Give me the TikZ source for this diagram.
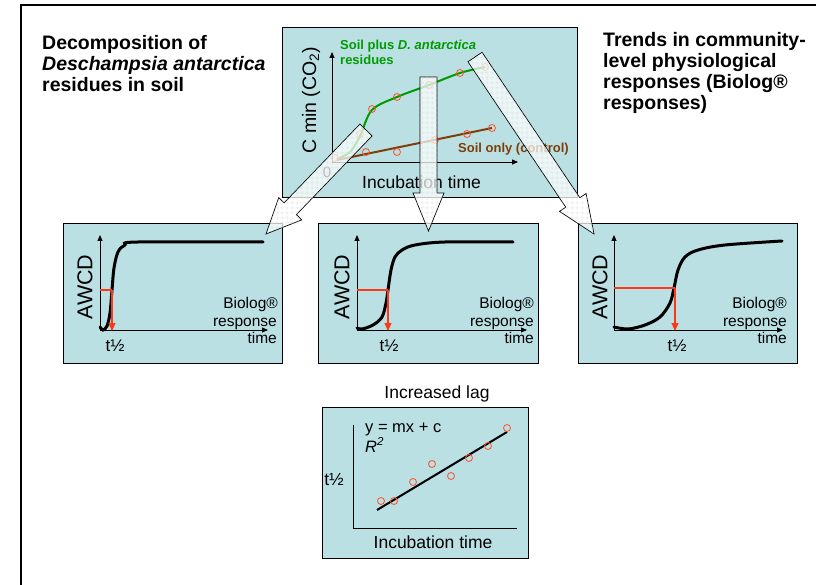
\documentclass[tikz,border=0pt]{standalone}
\usepackage{fontspec}
\setmainfont{Liberation Sans}
\usetikzlibrary{calc,arrows.meta,patterns.meta}
\definecolor{boxfill}{RGB}{186,224,228}
\definecolor{markred}{RGB}{255,55,20}
\definecolor{ringred}{RGB}{255,80,40}
\definecolor{plantgreen}{RGB}{0,155,0}
\definecolor{soilbrown}{RGB}{125,62,10}
\tikzdeclarepattern{name=tilegrid, type=uncolored,
  bounding box={(0pt,0pt) and (5pt,5pt)}, tile size={(5pt,5pt)},
  code={\draw[line width=0.5pt] (0pt,2.5pt) -- (5pt,2.5pt) (2.5pt,0pt) -- (2.5pt,5pt);}}
\tikzset{
  panel/.style={draw=black, line width=0.8pt, fill=boxfill},
  axisarrow/.style={line width=0.9pt, -{Triangle[length=6pt,width=5pt]}},
  axisplain/.style={line width=0.9pt},
  sig/.style={line width=3pt, line cap=round, black},
  ring/.style={circle, draw=ringred, line width=0.8pt, minimum size=7pt, inner sep=0pt},
  halfline/.style={draw=markred, line width=1.1pt},
  halfarrow/.style={draw=markred, fill=markred, line width=1.1pt, -{Triangle[length=8pt,width=7pt]}},
  blockarr/.style={draw=black, line width=0.7pt, fill=white, fill opacity=0.72,
    postaction={pattern=tilegrid, pattern color=black!14}},
  title/.style={font=\fontsize{19.5}{21}\selectfont\bfseries, inner sep=0pt},
  lbl/.style={font=\fontsize{15.5}{17}\selectfont, inner sep=0pt},
  halflbl/.style={font=\fontsize{17}{19}\selectfont, inner sep=0pt},
  axlbl/.style={font=\fontsize{17.5}{20}\selectfont, inner sep=0pt},
  awcd/.style={font=\fontsize{21.5}{24}\selectfont, inner sep=0pt, rotate=90},
  curvelbl/.style={font=\fontsize{13}{15}\selectfont\bfseries, inner sep=0pt},
}
\begin{document}
\begin{tikzpicture}[x=1pt,y=-1pt]
\useasboundingbox (0,0) rectangle (816,585);
% outer frame
\draw[line width=2.2pt] (21,590) -- (21,5) -- (820,5);

% titles
\node[title, anchor=base west] (tl1) at (42,49.3) {Decomposition of};
\node[title, anchor=base west] (tl2) at (42,70.7) {\textit{Deschampsia antarctica}};
\node[title, anchor=base west] (tl3) at (42,92) {residues in soil};
\node[title, anchor=base west] (tr1) at (603,46.5) {Trends in community-};
\node[title, anchor=base west] (tr2) at (603,68) {level physiological};
\node[title, anchor=base west] (tr3) at (603,89) {responses (Biolog®};
\node[title, anchor=base west] (tr4) at (603,110) {responses)};

% ---------- top panel ----------
\path[panel] (282,27) rectangle (577,197);
\draw[axisarrow] (332,162) -- (332,52);
\draw[axisarrow] (332,162) -- (518,162);
\node[axlbl, font=\fontsize{19.5}{22}\selectfont, rotate=90] (cmin) at (311,100) {C min (CO\textsubscript{2})};
\node[axlbl, anchor=base west] (inct) at (362,189) {Incubation time};
\node[font=\fontsize{15}{17}\selectfont, inner sep=0pt] (zero) at (327,172) {0};
\draw[plantgreen, line width=2pt] plot[smooth, tension=0.55] coordinates
  {(337,159) (350,152) (360,136) (372,110) (397,97) (429,85) (460,73) (485,67)};
\draw[soilbrown, line width=2pt] (337,160) -- (492,128);
\node[ring] (g0) at (335,158) {};
\node[ring] (g1) at (360,134) {};
\node[ring] (g2) at (372,109) {};
\node[ring] (g3) at (397,97) {};
\node[ring] (g4) at (429,85) {};
\node[ring] (g5) at (460,73) {};
\node[ring] (g6) at (485,67) {};
\node[ring] (b1) at (366,152) {};
\node[ring] (b2) at (397,152) {};
\node[ring] (b3) at (435,140) {};
\node[ring] (b4) at (467,134) {};
\node[ring] (b5) at (492,128) {};
\node[curvelbl, plantgreen, anchor=base west] (gl1) at (340,49.3) {Soil plus \textit{D. antarctica}};
\node[curvelbl, plantgreen, anchor=base west] (gl2) at (340,65) {residues};
\node[curvelbl, soilbrown, anchor=base west] (bl) at (458,153) {Soil only (control)};

% ---------- panel 1 ----------
\path[panel] (63,223) rectangle (282,363);
\draw[axisarrow] (100,330) -- (100,235);
\draw[axisarrow] (100,330) -- (268,330);
\node[awcd] (aw1) at (85,287) {AWCD};
\draw[sig] plot[smooth, tension=0.55] coordinates
  {(100,327) (103,330) (107,326) (110,313) (112,290) (114,268) (118,252) (125,245) (138,242) (263,242)};
\draw[halfline] (100,290) -- (112,290);
\draw[halfarrow] (112,290) -- (112,331);
\node[lbl, anchor=base east] (bi1) at (278,308) {Biolog®};
\node[lbl, anchor=base east] (re1) at (277,326) {response};
\node[lbl, anchor=base east] (ti1) at (277,343) {time};
\node[halflbl, anchor=base] (th1) at (115,351) {t½};

% ---------- panel 2 ----------
\path[panel] (318,223) rectangle (538,363);
\draw[axisarrow] (357,330) -- (357,235);
\draw[axisarrow] (357,330) -- (527,330);
\node[awcd] (aw2) at (342,287) {AWCD};
\draw[sig] plot[smooth, tension=0.55] coordinates
  {(357,328) (362,329) (373,325) (382,317) (386,303) (388,290) (391,270) (395,257) (402,250) (415,245) (445,242) (513,242)};
\draw[halfline] (357,290) -- (388,290);
\draw[halfarrow] (388,290) -- (388,331);
\node[lbl, anchor=base east] (bi2) at (534,308) {Biolog®};
\node[lbl, anchor=base east] (re2) at (534,326) {response};
\node[lbl, anchor=base east] (ti2) at (534,343) {time};
\node[halflbl, anchor=base] (th2) at (389,351) {t½};

% ---------- panel 3 ----------
\path[panel] (578,223) rectangle (797,363);
\draw[axisarrow] (614,330) -- (614,235);
\draw[axisarrow] (614,330) -- (783,330);
\node[awcd] (aw3) at (600,287) {AWCD};
\draw[sig] plot[smooth, tension=0.55] coordinates
  {(614,327) (628,329) (645,325) (660,317) (670,303) (674,288) (678,270) (685,257) (698,250) (725,245) (782,241)};
\draw[halfline] (614,288) -- (675,288);
\draw[halfarrow] (675,288) -- (675,331);
\node[lbl, anchor=base east] (bi3) at (787,308) {Biolog®};
\node[lbl, anchor=base east] (re3) at (787,326) {response};
\node[lbl, anchor=base east] (ti3) at (787,343) {time};
\node[halflbl, anchor=base] (th3) at (677,351) {t½};

% ---------- regression panel ----------
\node[axlbl, anchor=base] (lag) at (437,398) {Increased lag};
\path[panel] (322,407) rectangle (528,558);
\draw[axisplain] (353,425) -- (353,528) -- (517,528);
\node[axlbl, anchor=base] (inct2) at (433,548) {Incubation time};
\node[axlbl, anchor=base] (th4) at (334,485) {t½};
\node[lbl, font=\fontsize{16.5}{18}\selectfont, anchor=base west] (eq) at (365,432) {y = mx + c};
\node[lbl, font=\fontsize{16.5}{18}\selectfont, anchor=base west] (rsq) at (365,452) {\textit{R\textsuperscript{2}}};
\draw[line width=2pt] (377,510) -- (507,432);
\node[ring] (r1) at (381,501) {};
\node[ring] (r2) at (394,501) {};
\node[ring] (r3) at (413,482) {};
\node[ring] (r4) at (432,464) {};
\node[ring] (r5) at (451,476) {};
\node[ring] (r6) at (469,458) {};
\node[ring] (r7) at (488,446) {};
\node[ring] (r8) at (507,428) {};

% ---------- block arrows ----------
\coordinate (aLs) at (366,130);
\coordinate (aLt) at (266,234);
\coordinate (aLh) at ($(aLt)!35pt!(aLs)$);
\path[blockarr] ($(aLs)!8.5pt!90:(aLt)$) -- ($(aLh)!8.5pt!90:(aLt)$) -- ($(aLh)!16pt!90:(aLt)$) -- (aLt)
  -- ($(aLh)!16pt!-90:(aLt)$) -- ($(aLh)!8.5pt!-90:(aLt)$) -- ($(aLs)!8.5pt!-90:(aLt)$) -- cycle;

\coordinate (aMs) at (428.5,77);
\coordinate (aMt) at (428.5,231);
\coordinate (aMh) at ($(aMt)!38pt!(aMs)$);
\path[blockarr] ($(aMs)!8.5pt!90:(aMt)$) -- ($(aMh)!8.5pt!90:(aMt)$) -- ($(aMh)!15.5pt!90:(aMt)$) -- (aMt)
  -- ($(aMh)!15.5pt!-90:(aMt)$) -- ($(aMh)!8.5pt!-90:(aMt)$) -- ($(aMs)!8.5pt!-90:(aMt)$) -- cycle;

\coordinate (aRs) at (475,57);
\coordinate (aRt) at (594,234);
\coordinate (aRh) at ($(aRt)!38pt!(aRs)$);
\path[blockarr] ($(aRs)!8.5pt!90:(aRt)$) -- ($(aRh)!8.5pt!90:(aRt)$) -- ($(aRh)!16pt!90:(aRt)$) -- (aRt)
  -- ($(aRh)!16pt!-90:(aRt)$) -- ($(aRh)!8.5pt!-90:(aRt)$) -- ($(aRs)!8.5pt!-90:(aRt)$) -- cycle;
\end{tikzpicture}
\end{document}
